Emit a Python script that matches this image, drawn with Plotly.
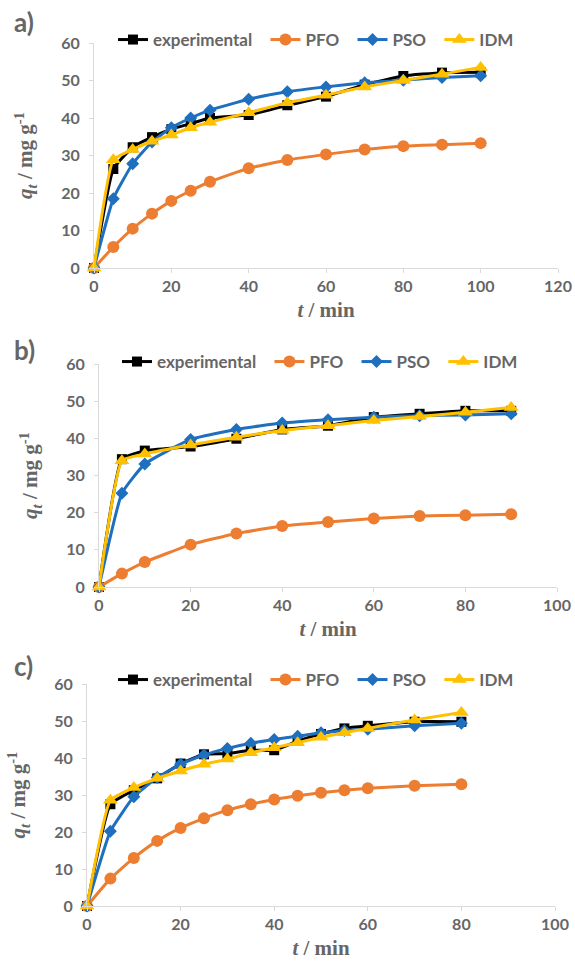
import plotly.graph_objects as go

# ---- data ----
t_a = [0, 5, 10, 15, 20, 25, 30, 40, 50, 60, 70, 80, 90, 100]
exp_a = [0, 26.4, 32.2, 34.9, 37.0, 38.5, 40.0, 40.8, 43.4, 45.7, 48.9, 51.2, 52.1, 52.2]
pfo_a = [0, 5.6, 10.5, 14.5, 17.9, 20.6, 23.0, 26.6, 28.8, 30.3, 31.6, 32.5, 32.9, 33.3]
pso_a = [0, 18.5, 27.8, 33.6, 37.4, 40.0, 42.1, 45.0, 47.0, 48.3, 49.4, 50.1, 50.8, 51.3]
idm_a = [0, 28.9, 31.6, 33.8, 35.5, 37.4, 38.9, 41.4, 44.1, 46.1, 48.3, 50.0, 51.7, 53.5]

t_b = [0, 5, 10, 20, 30, 40, 50, 60, 70, 80, 90]
exp_b = [0, 34.4, 36.7, 37.8, 39.9, 42.4, 43.4, 45.7, 46.6, 47.4, 47.4]
pfo_b = [0, 3.6, 6.7, 11.4, 14.4, 16.4, 17.5, 18.4, 19.1, 19.3, 19.6]
pso_b = [0, 25.2, 33.1, 39.7, 42.4, 44.1, 45.0, 45.7, 46.1, 46.3, 46.6]
idm_b = [0, 34.0, 35.8, 38.2, 40.3, 42.1, 43.4, 44.8, 45.9, 47.0, 48.3]

t_c = [0, 5, 10, 15, 20, 25, 30, 35, 40, 45, 50, 55, 60, 70, 80]
exp_c = [0, 27.5, 31.3, 34.5, 38.5, 41.0, 41.2, 42.1, 42.1, 44.6, 46.5, 48.0, 48.7, 49.8, 49.8]
pfo_c = [0, 7.4, 13.0, 17.6, 21.1, 23.7, 25.9, 27.5, 28.8, 29.8, 30.6, 31.3, 31.8, 32.5, 32.9]
pso_c = [0, 20.2, 29.5, 34.7, 38.3, 40.8, 42.6, 44.0, 45.0, 45.9, 46.8, 47.4, 47.8, 48.7, 49.4]
idm_c = [0, 28.6, 32.0, 34.5, 36.5, 38.3, 39.7, 41.4, 42.8, 44.1, 45.6, 46.8, 48.0, 50.3, 52.3]

series_names = ["experimental", "PFO", "PSO", "IDM"]
panel_labels = ["a)", "b)", "c)"]
x_max = [120, 100, 100]
y_ticks = [0, 10, 20, 30, 40, 50, 60]

# ---- styles ----
colors = ["#000000", "#ED7D31", "#1F6FBF", "#FFC000"]
symbols = ["square", "circle", "diamond", "triangle-up"]
msizes = [10, 12, 10, 13]
name_pad = ["&nbsp;&nbsp;", "&nbsp;&nbsp;", "&nbsp;&nbsp;", ""]
GREY = "#666666"
AXC = "#d9d9d9"
FONT = "Lato"
SERIF = "Liberation Serif"

W, H = 575, 961
def px(x): return x / W
def py(y): return 1 - y / H

# panel geometry in pixels: (x0, x1, ytop, ybottom)
geo = [(94, 558, 43, 268), (99, 557, 364, 587), (87, 555, 684, 906)]
leg_y = [40, 362, 680]
leg_x = [316, 320, 316]
lab_y = [22, 350, 666]

panels = [
    (t_a, [exp_a, pfo_a, pso_a, idm_a]),
    (t_b, [exp_b, pfo_b, pso_b, idm_b]),
    (t_c, [exp_c, pfo_c, pso_c, idm_c]),
]

fig = go.Figure()
layout = {}
for i, (t, ys) in enumerate(panels):
    n = "" if i == 0 else str(i + 1)
    legname = "legend" + n
    for k, y in enumerate(ys):
        fig.add_trace(go.Scatter(
            x=t, y=y, name=series_names[k] + name_pad[k], mode="lines+markers",
            xaxis="x" + n, yaxis="y" + n, legend=legname, cliponaxis=False,
            line=dict(color=colors[k], width=3, shape="spline", smoothing=0.4),
            marker=dict(symbol=symbols[k], size=msizes[k], color=colors[k]),
        ))
    x0, x1, yt, yb = geo[i]
    layout["xaxis" + n] = dict(
        domain=[px(x0), px(x1)], range=[0, x_max[i]], anchor="y" + n,
        dtick=20, showgrid=False, zeroline=False, showline=True, linecolor=AXC,
        linewidth=1, ticks="outside", ticklen=4, tickcolor=AXC, automargin=False,
        tickfont=dict(family=FONT, size=16, color=GREY, weight="bold"),
        title=dict(text="<i>t</i> / min", standoff=8,
                   font=dict(family=SERIF, size=21, color=GREY, weight="bold")),
    )
    layout["yaxis" + n] = dict(
        domain=[py(yb), py(yt)], range=[0, 60], anchor="x" + n,
        tickvals=y_ticks, showgrid=False, zeroline=False, showline=True,
        linecolor=AXC, linewidth=1, ticks="outside", ticklen=4, tickcolor=AXC,
        automargin=False, ticklabelstandoff=6,
        tickfont=dict(family=FONT, size=16, color=GREY, weight="bold"),
        title=dict(text="<i>q</i><sub><i>t</i></sub> / mg g<sup>-1</sup>", standoff=22,
                   font=dict(family=SERIF, size=21, color=GREY, weight="bold")),
    )
    layout[legname] = dict(
        orientation="h", x=px(leg_x[i]), xanchor="center", y=py(leg_y[i]), yanchor="middle",
        font=dict(family=FONT, size=17, color=GREY, weight="bold"),
        bgcolor="rgba(0,0,0,0)", itemwidth=30, tracegroupgap=0,
    )

annotations = [
    dict(text=panel_labels[i], x=px(12), y=py(lab_y[i]), xref="paper", yref="paper",
         xanchor="left", yanchor="middle", showarrow=False,
         font=dict(family=FONT, size=26, color=GREY, weight="bold"))
    for i in range(3)
]

fig.update_layout(
    width=W, height=H, margin=dict(l=0, r=0, t=0, b=0, autoexpand=False),
    paper_bgcolor="white", plot_bgcolor="white",
    annotations=annotations, **layout,
)

fig.write_html("out.html", config={"displayModeBar": False},
               post_script="document.body.style.margin='0';")
